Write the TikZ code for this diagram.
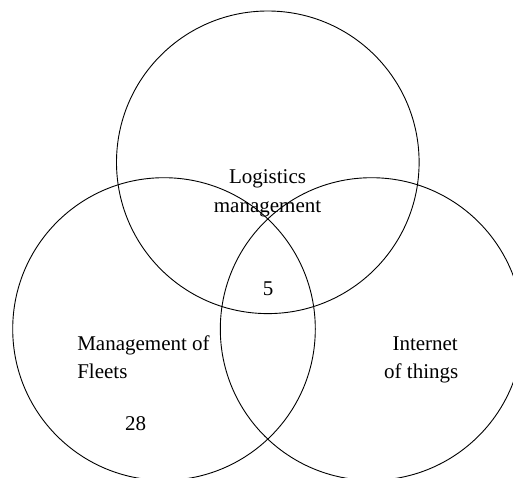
\documentclass[tikz,border=0pt]{standalone}
\usepackage{fontspec}
\setmainfont{Liberation Serif}
\begin{document}
\begin{tikzpicture}[x=1pt,y=-1pt,
  ring/.style={circle,draw=black,line width=0.9pt,minimum size=302.6pt,inner sep=0pt,outer sep=0pt},
  lbl/.style={inner sep=0pt,outer sep=0pt,font=\fontsize{21}{29}\selectfont}]
\useasboundingbox (0,0) rectangle (513,477);
\clip (0,0) rectangle (513,477);
\node[ring] (top) at (267.8,162.3) {};
\node[ring] (left) at (164,329) {};
\node[ring] (right) at (371.6,329) {};
\node[lbl,anchor=base] (log1) at (267.5,183) {Logistics};
\node[lbl,anchor=base] (log2) at (267.5,212) {management};
\node[lbl,anchor=base] (five) at (268,295) {5};
\node[lbl,anchor=base west] (man1) at (77.3,350) {Management of};
\node[lbl,anchor=base west] (man2) at (77.3,378) {Fleets};
\node[lbl,anchor=base] (n28) at (135.5,430) {28};
\node[lbl,anchor=base east] (int1) at (457.8,350) {Internet};
\node[lbl,anchor=base east] (int2) at (458.3,378) {of things};
\end{tikzpicture}
\end{document}
